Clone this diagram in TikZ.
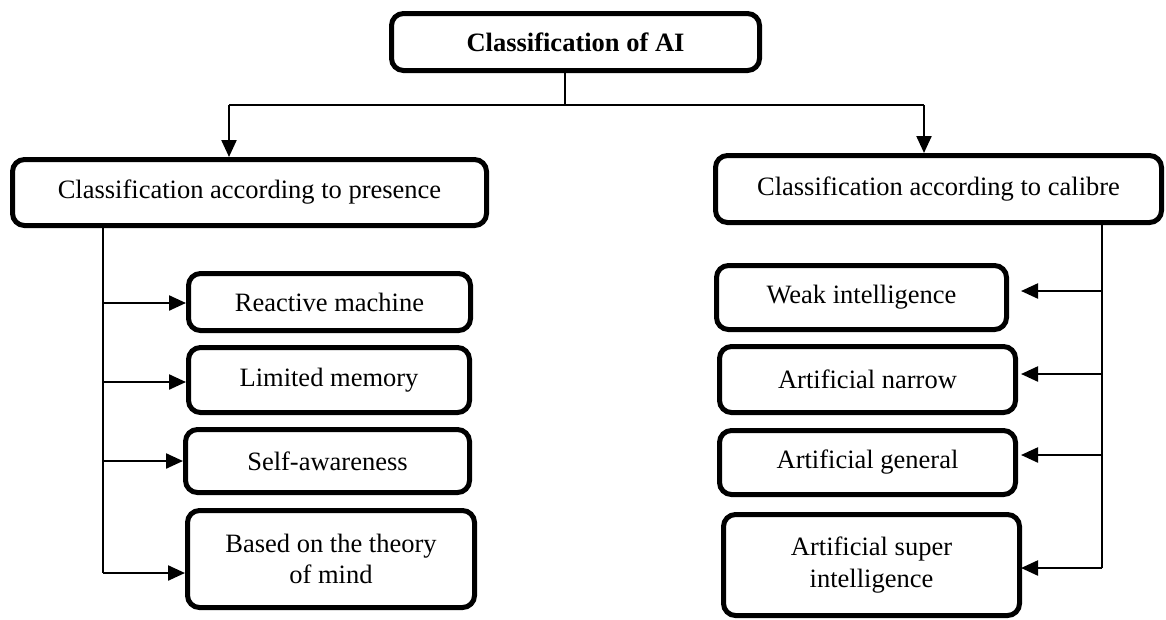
\documentclass[tikz,border=0pt]{standalone}
\usepackage{fontspec}
\setmainfont{Liberation Serif}
\usetikzlibrary{arrows.meta,calc}

\tikzset{
  box/.style={draw, line width=5pt, rounded corners=12pt, align=center,
    inner sep=0pt, font=\fontsize{26.5}{31.5}\selectfont},
  link/.style={line width=2.3pt},
  arr/.style={link, -{Triangle[length=17pt,width=15pt]}}
}

\begin{document}
\begin{tikzpicture}[x=1pt, y=-1pt]
\useasboundingbox (0,0) rectangle (1166,619);

% root
\node[box, minimum width=368pt, minimum height=57pt, font=\fontsize{26.5}{31.5}\selectfont\bfseries]
  (root) at (575.5,42) {Classification of AI};

% two main branches
\node[box, minimum width=474pt, minimum height=66pt] (pres) at (249.5,192.5)
  {Classification according to presence};
\node[box, minimum width=446pt, minimum height=67pt] (cal) at (938.5,189)
  {Classification according to calibre};

% presence-based types
\node[box, minimum width=282pt, minimum height=57pt] (p1) at (329.5,302) {Reactive machine};
\node[box, minimum width=281pt, minimum height=65pt] (p2) at (329,380) {Limited memory};
\node[box, minimum width=284pt, minimum height=63pt] (p3) at (327.5,461) {Self-awareness};
\node[box, minimum width=287pt, minimum height=97pt] (p4) at (331,559) {Based on the theory\\of mind};

% calibre-based types
\node[box, minimum width=290pt, minimum height=64pt] (c1) at (861.5,297.5) {Weak intelligence};
\node[box, minimum width=296pt, minimum height=66pt] (c2) at (867.5,379.5) {Artificial narrow};
\node[box, minimum width=296pt, minimum height=64pt] (c3) at (867.5,462.5) {Artificial general};
\node[box, minimum width=296pt, minimum height=101pt] (c4) at (871.5,565) {Artificial super\\intelligence};

% root fork
\coordinate (fork) at (565,105);
\coordinate (forkL) at (229,105);
\coordinate (forkR) at (924,105);
\draw[link] (root.south -| fork) -- (fork);
\draw[link] (forkL) -- (forkR);
\draw[arr] (forkL) -- (forkL |- pres.north);
\draw[arr] (forkR) -- (forkR |- cal.north);

% left spine
\coordinate (spL) at (103,0);
\coordinate (spLend) at (103,573);
\draw[link] (spL |- pres.south) -- (spLend);
\draw[arr] (spL |- 0,303) -- (p1.west |- 0,303);
\draw[arr] (spL |- 0,382) -- (p2.west |- 0,382);
\draw[arr] (spL |- 0,461) -- (p3.west |- 0,461);
\draw[arr] (spLend) -- (p4.west |- spLend);

% right spine
\coordinate (spR) at (1102,0);
\coordinate (spRend) at (1102,568);
\coordinate (tipR) at (1021,0);
\draw[link] (spR |- cal.south) -- (spRend);
\draw[arr] (spR |- 0,291) -- (tipR |- 0,291);
\draw[arr] (spR |- 0,374) -- (tipR |- 0,374);
\draw[arr] (spR |- 0,455) -- (tipR |- 0,455);
\draw[arr] (spRend) -- (tipR |- spRend);
\end{tikzpicture}
\end{document}
